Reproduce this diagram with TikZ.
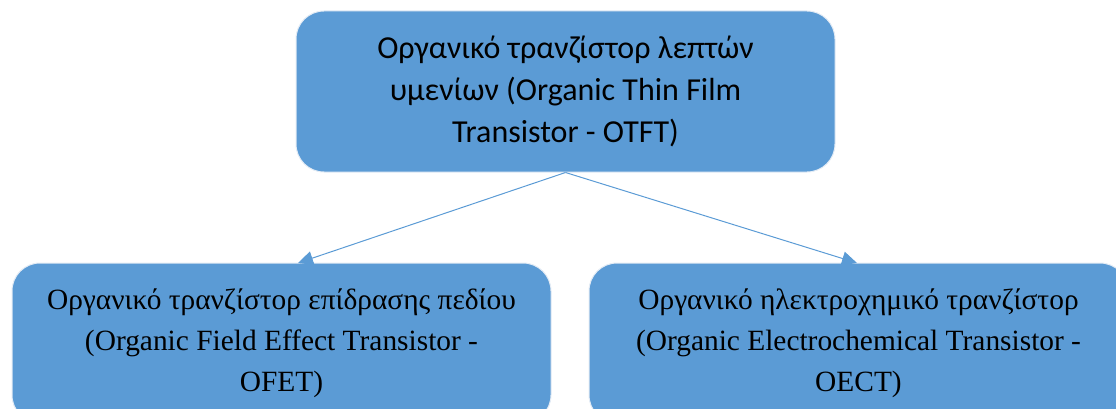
\documentclass[tikz,border=0pt]{standalone}
\usepackage{fontspec}
\usetikzlibrary{arrows.meta}
\newfontfamily\boxsans{Carlito}
\newfontfamily\boxserif{Liberation Serif}
\definecolor{boxblue}{HTML}{5B9BD5}
\definecolor{boxedge}{HTML}{E4ECF5}
\tikzset{
  x=1pt, y=-1pt,
  catbox/.style={rectangle, rounded corners=28pt, fill=boxblue, draw=boxedge,
    line width=1pt, align=center, text=black, inner sep=0pt,
    minimum width=539pt},
  toptext/.style={font=\boxsans\fontsize{32}{42}\selectfont},
  subtext/.style={font=\boxserif\fontsize{29.4}{41}\selectfont},
  link/.style={draw=boxblue, line width=1pt,
    -{Triangle[length=15pt,width=14pt]}},
}
\begin{document}
\begin{tikzpicture}
\path[use as bounding box, clip] (0,0) rectangle (1116,409);

% parent category
\node[catbox, toptext, minimum height=161pt] (otft) at (565.5,91.5)
  {Οργανικό τρανζίστορ λεπτών\\υμενίων (Organic Thin Film\\Transistor - OTFT)};

% the two sub-categories
\node[catbox, subtext, minimum height=160pt] (ofet) at (281.5,343)
  {Οργανικό τρανζίστορ επίδρασης πεδίου\\(Organic Field Effect Transistor -\\OFET)};
\node[catbox, subtext, minimum height=160pt] (oect) at (858.5,343)
  {Οργανικό ηλεκτροχημικό τρανζίστορ\\(Organic Electrochemical Transistor -\\OECT)};

% arrow ends on the upper edges of the sub-category boxes
\coordinate (ofetin) at (298,263);
\coordinate (oectin) at (857,263);

\draw[link] (otft.south) -- (ofetin);
\draw[link] (otft.south) -- (oectin);
\end{tikzpicture}
\end{document}
